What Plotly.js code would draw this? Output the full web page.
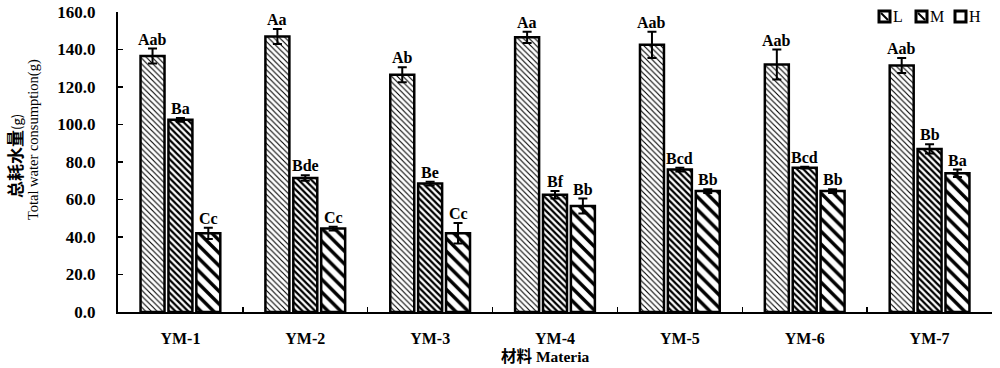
<!DOCTYPE html>
<html>
<head>
<meta charset="utf-8">
<script src="https://cdn.plot.ly/plotly-3.0.1.min.js"></script>
<style>html,body{margin:0;padding:0;background:#fff;}#chart{width:1000px;height:368px;}</style>
</head>
<body>
<div id="chart"></div>
<script>
var categories = ['YM-1', 'YM-2', 'YM-3', 'YM-4', 'YM-5', 'YM-6', 'YM-7'];
var seriesNames = ['L', 'M', 'H'];
var valuesL = [136.5, 147, 126.5, 146.5, 142.5, 132, 131.5];
var errorsL = [4, 4, 4, 3, 7, 8, 4];
var valuesM = [102.5, 71.5, 68.5, 62.5, 76, 77, 87];
var errorsM = [1, 1.5, 1, 2, 1, 0.5, 2.5];
var valuesH = [42, 44.5, 42, 56.5, 64.5, 64.5, 74];
var errorsH = [3, 1, 5.5, 4, 1, 1, 2];
var labelsL = ['Aab', 'Aa', 'Ab', 'Aa', 'Aab', 'Aab', 'Aab'];
var labelsM = ['Ba', 'Bde', 'Be', 'Bf', 'Bcd', 'Bcd', 'Bb'];
var labelsH = ['Cc', 'Cc', 'Cc', 'Bb', 'Bb', 'Bb', 'Ba'];
var yTitleCN = '总耗水量';
var yTitleEN = 'Total water consumption(g)';
var xTitle = '材料 Materia';

var serif = 'Liberation Serif, Times New Roman, Noto Sans CJK SC, serif';
var patterns = [
  {shape: '\\', size: 4, solidity: 0.28},
  {shape: '\\', size: 4.5, solidity: 0.5},
  {shape: '\\', size: 9, solidity: 0.38}
];
var vals = [valuesL, valuesM, valuesH];
var errs = [errorsL, errorsM, errorsH];
var labs = [labelsL, labelsM, labelsH];

var traces = seriesNames.map(function (n, i) {
  return {
    type: 'bar', name: n, x: categories, y: vals[i], showlegend: false,
    marker: {
      color: 'white',
      line: {color: 'black', width: 2.5},
      pattern: {shape: patterns[i].shape, size: patterns[i].size, solidity: patterns[i].solidity,
                fgcolor: 'black', bgcolor: 'white', fillmode: 'replace'}
    },
    error_y: {type: 'data', array: errs[i], visible: true, color: 'black', thickness: 2, width: 4.5}
  };
});

var offsets = [-28, 0, 28];
var annotations = [];
seriesNames.forEach(function (n, i) {
  categories.forEach(function (c, j) {
    annotations.push({
      x: c, y: vals[i][j] + errs[i][j], xref: 'x', yref: 'y',
      xshift: offsets[i], yshift: -1, yanchor: 'bottom', showarrow: false,
      text: '<b>' + labs[i][j] + '</b>',
      font: {family: serif, size: 16, color: 'black'}
    });
  });
});
annotations.push({
  xref: 'paper', yref: 'paper', x: 0, xshift: -104, y: 0.52, textangle: -90,
  showarrow: false, xanchor: 'center', yanchor: 'middle',
  text: '<b>' + yTitleCN + '</b><span style="font-size:13px">(g)</span>',
  font: {family: 'Noto Sans CJK SC, Liberation Serif, serif', size: 17, color: 'black'}
});
annotations.push({
  xref: 'paper', yref: 'paper', x: 0, xshift: -85, y: 0.573, textangle: -90,
  showarrow: false, xanchor: 'center', yanchor: 'middle',
  text: yTitleEN,
  font: {family: serif, size: 14.5, color: 'black'}
});
annotations.push({
  xref: 'paper', yref: 'paper', x: 0.4886, y: -0.148,
  showarrow: false, xanchor: 'center', yanchor: 'middle',
  text: '<b>' + xTitle + '</b>',
  font: {family: serif, size: 15.5, color: 'black'}
});

// legend: key boxes + series letters (top-right)
var legendX = [-113, -76, -37];
var shapes = [];
seriesNames.forEach(function (n, i) {
  shapes.push({
    type: 'rect', xref: 'paper', yref: 'paper', xsizemode: 'pixel', ysizemode: 'pixel',
    xanchor: 1, yanchor: 1, x0: legendX[i], x1: legendX[i] + 11, y0: -10, y1: 1,
    line: {color: 'black', width: 3}, fillcolor: 'white'
  });
  if (i < 2) {
    shapes.push({
      type: 'line', xref: 'paper', yref: 'paper', xsizemode: 'pixel', ysizemode: 'pixel',
      xanchor: 1, yanchor: 1, x0: legendX[i] + 2, x1: legendX[i] + 9, y0: -1, y1: -8,
      line: {color: 'black', width: 2}
    });
  }
  annotations.push({
    xref: 'paper', yref: 'paper', x: 1, y: 1, xanchor: 'left', yanchor: 'middle',
    xshift: legendX[i] + 12, yshift: -4.5, showarrow: false, text: n,
    font: {family: serif, size: 16, color: 'black'}
  });
});

var layout = {
  width: 1000, height: 368,
  margin: {l: 118, r: 8, t: 12, b: 56, autoexpand: false},
  paper_bgcolor: 'white', plot_bgcolor: 'white',
  barmode: 'group', bargap: 0.33, bargroupgap: 0.14,
  showlegend: false,
  xaxis: {
    type: 'category', showline: true, linecolor: 'black', linewidth: 2,
    ticks: 'inside', tickson: 'boundaries', ticklen: 5, tickwidth: 1.5, tickcolor: 'black',
    showgrid: false, zeroline: false, ticklabelstandoff: 11,
    tickfont: {family: serif, size: 16, color: 'black', weight: 'bold'}
  },
  yaxis: {
    range: [0, 160], dtick: 20, tickformat: '.1f',
    showline: true, linecolor: 'black', linewidth: 2,
    ticks: 'inside', ticklen: 5, tickwidth: 1.5, tickcolor: 'black',
    showgrid: false, zeroline: false, ticklabelstandoff: 17,
    tickfont: {family: serif, size: 17, color: 'black', weight: 'bold'}
  },
  shapes: shapes,
  annotations: annotations
};

Plotly.newPlot('chart', traces, layout, {displayModeBar: false, staticPlot: true});
</script>
</body>
</html>
